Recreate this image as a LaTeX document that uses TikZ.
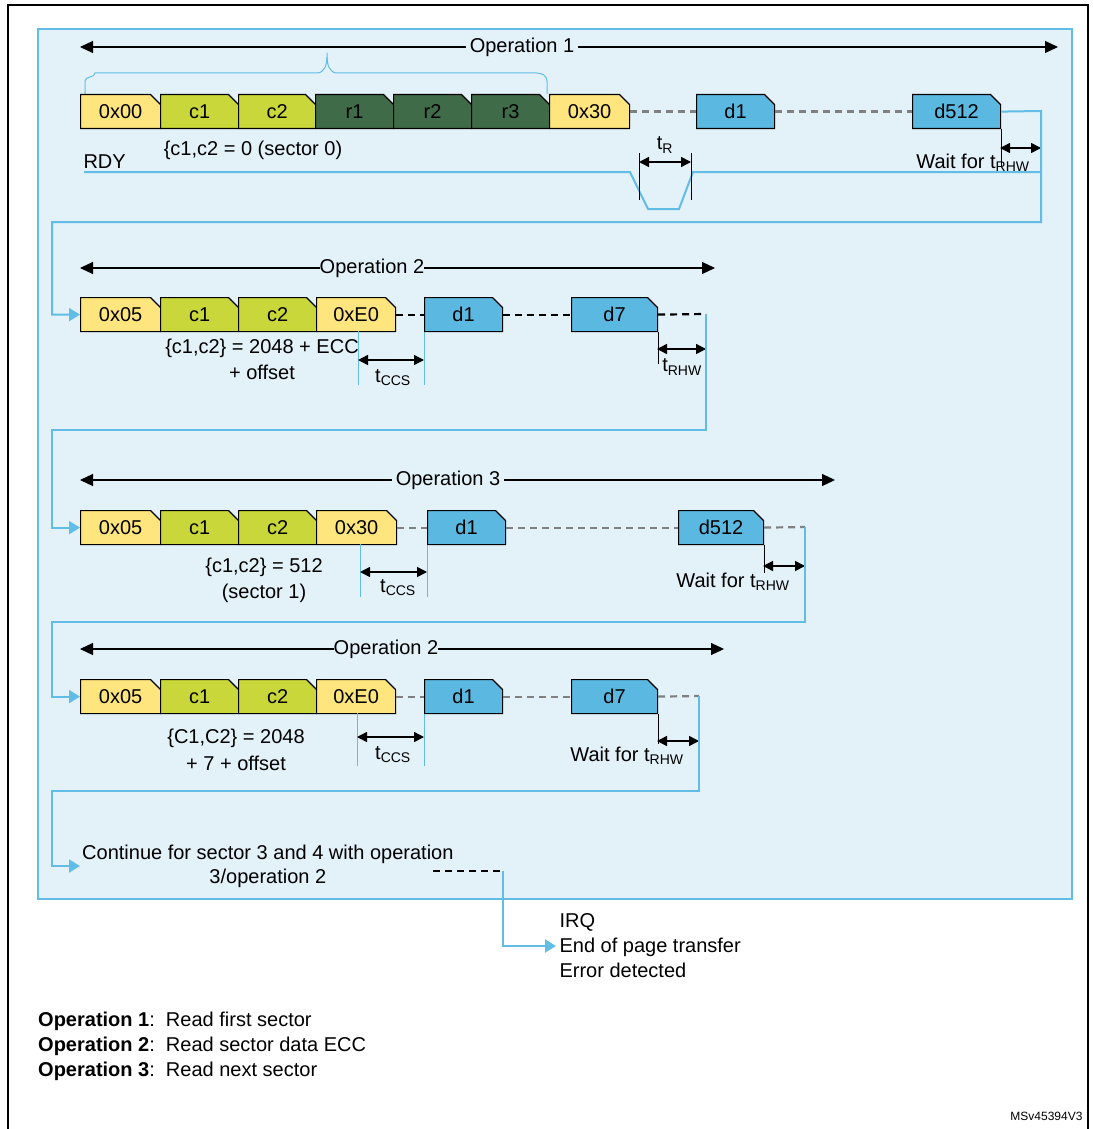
\documentclass[tikz,border=0pt]{standalone}
\usepackage{fontspec}
\setmainfont{Liberation Sans}
\usetikzlibrary{shapes.misc,arrows.meta}
\definecolor{yel}{HTML}{FFE57E}
\definecolor{lim}{HTML}{C9D73A}
\definecolor{dkg}{HTML}{3F6B48}
\definecolor{blu}{HTML}{5BB9E1}
\definecolor{wire}{HTML}{62BDE6}
\definecolor{panel}{HTML}{E3F1F9}
\tikzset{
  blk/.style={chamfered rectangle, chamfered rectangle corners=north east,
    chamfered rectangle sep=5pt, draw=black, line width=1.2pt, inner sep=0pt,
    minimum height=34pt, anchor=north west},
  bline/.style={draw=wire, line width=2pt},
  barr/.style={bline, -{Triangle[length=11pt,width=13pt]}},
  gdash/.style={draw=gray, line width=2.2pt, dash pattern=on 7pt off 5pt},
  kdash/.style={draw=black, line width=2.2pt, dash pattern=on 7pt off 5pt},
  span/.style={line width=1.2pt, {Triangle[length=13pt,width=12pt]}-{Triangle[length=13pt,width=12pt]}},
  dim/.style={line width=1.5pt, {Triangle[length=10pt,width=10pt]}-{Triangle[length=10pt,width=10pt]}},
  tick/.style={draw=wire, line width=1pt},
  lbl/.style={fill=panel, inner sep=4pt}
}
\begin{document}
\begin{tikzpicture}[x=1pt,y=-1pt,font=\fontsize{20}{24}\selectfont]
\useasboundingbox (0,0) rectangle (1092,1129);
\draw[line width=1.5pt] (8,1135) -- (8,5) -- (1088,5) -- (1088,1135);
\filldraw[fill=panel, draw=wire, line width=2pt] (38,29) rectangle (1072,899);

% operation 1
\draw[span] (80,47) -- (1058,47);
\node[lbl] (op1) at (522,47) {Operation 1};
\draw[tick] (85,94) -- (85,81) to[out=90,in=-90] (95,73) -- (317,73) to[out=0,in=-90] (327,57) -- (327,53);
\draw[tick] (327,57) to[out=-90,in=180] (337,73) -- (537,73) to[out=0,in=90] (547,81) -- (547,94);
\foreach \n/\x/\w/\c/\t in {a0/80/80/yel/0x00, a1/160/78/lim/c1, a2/238/77/lim/c2,
    a3/315/78/dkg/r1, a4/393/78/dkg/r2, a5/471/78/dkg/r3, a6/549/80/yel/0x30,
    a7/696/78/blu/d1, a8/912/88/blu/d512}
  \node[blk, fill=\c, minimum width=\w pt] (\n) at (\x,94) {\t};
\draw[gdash] (a6.east) -- (a7.west);
\draw[gdash] (a7.east) -- (a8.west);
\node (adr) at (253,150) {\{c1,c2 = 0 (sector 0)};
\node[anchor=west] (rdy) at (80,162) {RDY};
\draw[bline] (84,172) -- (630,172) -- (648,209) -- (679,209) -- (693,172) -- (1041,172);
\draw[line width=1pt] (639,153) -- (639,200);
\draw[line width=1pt] (691,153) -- (691,200);
\draw[dim] (639,162) -- (691,162);
\node (tr) at (665,145) {t\textsubscript{R}};
\draw[line width=1pt] (a8.south east) -- ++(0,38);
\draw[dim] (1000,148) -- (1041,148);
\node (w1) at (973,163) {Wait for t\textsubscript{RHW}};

% operation 2
\draw[span] (80,268) -- (715,268);
\node[lbl, inner sep=0pt] (op2) at (372,268) {Operation 2};
\foreach \n/\x/\w/\c/\t in {b0/80/80/yel/0x05, b1/160/78/lim/c1, b2/238/78/lim/c2,
    b3/316/79/yel/0xE0, b4/424/78/blu/d1, b5/571/86/blu/d7}
  \node[blk, fill=\c, minimum width=\w pt] (\n) at (\x,297) {\t};
\draw[barr] (a8.east) -- (1041,111) |- (52,222) |- (b0.west);
\draw[kdash] (b3.east) -- (b4.west);
\draw[kdash] (b4.east) -- (b5.west);
\draw[kdash] (b5.east) -- (706,314);
\node (adr2) at (262,348) {\{c1,c2\} = 2048 + ECC};
\node (adr2b) at (262,372) {+ offset};
\draw[tick] (358,331) -- (358,385);
\draw[tick] (b4.south west) -- (424,385);
\draw[dim] (358,360) -- (424,360);
\node (tc2) at (393,378) {t\textsubscript{CCS}};
\draw[line width=1pt] (b5.south east) -- ++(0,32);
\draw[dim] (657,349) -- (706,349);
\node (rh2) at (682,367) {t\textsubscript{RHW}};

% operation 3
\draw[span] (80,480) -- (835,480);
\node[lbl] (op3) at (448,480) {Operation 3};
\foreach \n/\x/\w/\c/\t in {c0/80/80/yel/0x05, c1/160/78/lim/c1, c2/238/78/lim/c2,
    c3/316/80/yel/0x30, c4/427/78/blu/d1, c5/678/85/blu/d512}
  \node[blk, fill=\c, minimum width=\w pt] (\n) at (\x,510) {\t};
\draw[barr] (706,314) |- (52,430) |- (c0.west);
\draw[gdash] (c3.east) -- (c4.west);
\draw[gdash] (c4.east) -- (c5.west);
\draw[gdash] (c5.east) -- (805,527);
\node (adr3) at (264,567) {\{c1,c2\} = 512};
\node (adr3b) at (264,593) {(sector 1)};
\draw[tick] (360,544) -- (360,597);
\draw[tick] (c4.south west) -- (427,597);
\draw[dim] (360,572) -- (427,572);
\node (tc3) at (398,588) {t\textsubscript{CCS}};
\draw[line width=1pt] (c5.south east) -- ++(0,28);
\draw[dim] (763,566) -- (805,566);
\node (w3) at (733,582) {Wait for t\textsubscript{RHW}};

% operation 2 again
\draw[span] (80,649) -- (724,649);
\node[lbl, inner sep=0pt] (op4) at (386,649) {Operation 2};
\foreach \n/\x/\w/\c/\t in {e0/80/80/yel/0x05, e1/160/78/lim/c1, e2/238/78/lim/c2,
    e3/316/79/yel/0xE0, e4/424/78/blu/d1, e5/571/86/blu/d7}
  \node[blk, fill=\c, minimum width=\w pt] (\n) at (\x,679) {\t};
\draw[barr] (805,527) |- (52,622) |- (e0.west);
\draw[gdash] (e3.east) -- (e4.west);
\draw[gdash] (e4.east) -- (e5.west);
\draw[gdash] (e5.east) -- (699,696);
\node (adr4) at (236,738) {\{C1,C2\} = 2048};
\node (adr4b) at (236,763) {+ 7 + offset};
\draw[tick] (357,713) -- (357,766);
\draw[tick] (e4.south west) -- (424,766);
\draw[dim] (357,737) -- (424,737);
\node (tc4) at (393,755) {t\textsubscript{CCS}};
\draw[line width=1pt] (e5.south east) -- ++(0,30);
\draw[dim] (657,741) -- (699,741);
\node (w4) at (627,756) {Wait for t\textsubscript{RHW}};

% continue
\node[anchor=west, align=center, inner sep=2pt] (cont) at (80,866) {Continue for sector 3 and 4 with operation\\3/operation 2};
\draw[barr] (699,696) |- (52,791) |- (cont.west);
\coordinate (dend) at (503,871);
\draw[kdash] (433,871) -- (dend);
\node[anchor=west, align=left] (irq) at (556,946) {IRQ\\[1pt]End of page transfer\\[1pt]Error detected};
\draw[barr] (dend) |- (irq.west);

% legend
\node[anchor=west, align=left, inner sep=0pt] (leg) at (38,1046) {\textbf{Operation 1}:\ \ Read first sector\\[1pt]
  \textbf{Operation 2}:\ \ Read sector data ECC\\[1pt]\textbf{Operation 3}:\ \ Read next sector};
\node[anchor=south east, font=\fontsize{12}{14}\selectfont] (ref) at (1086,1124) {MSv45394V3};
\end{tikzpicture}
\end{document}
